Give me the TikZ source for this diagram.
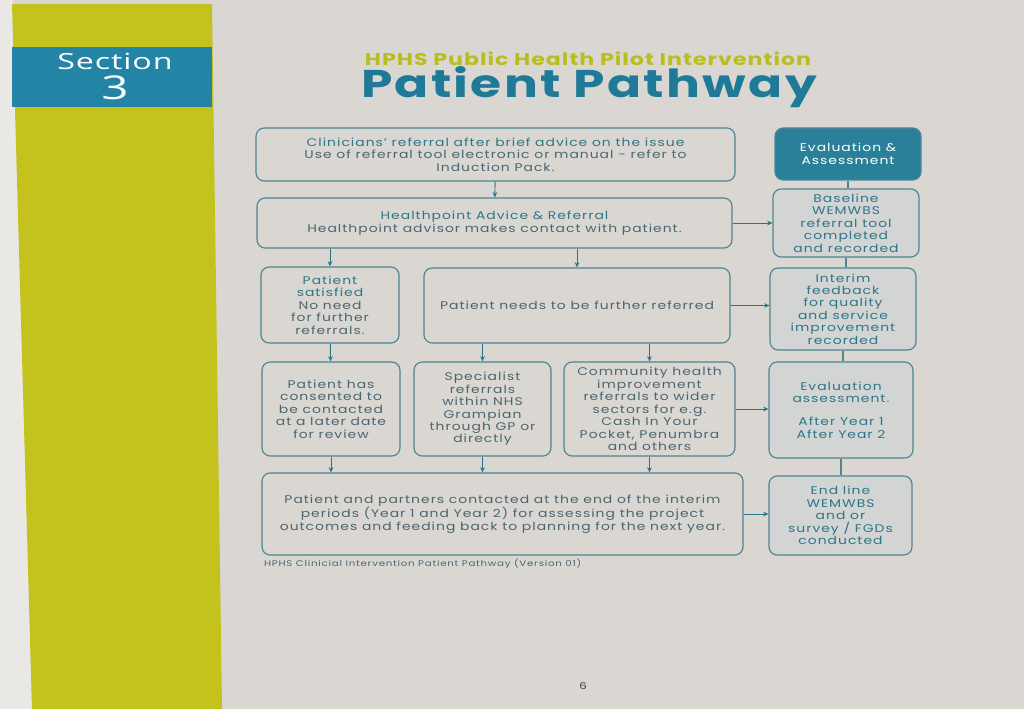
\documentclass[tikz,border=0pt]{standalone}
\usepackage{fontspec}
\setmainfont{Poppins}[FakeStretch=1.25, LetterSpace=9]
\newfontfamily\secfont{Open Sans}[FakeStretch=1.45, LetterSpace=4]
\newfontfamily\titlefont{Poppins}[FakeStretch=1.3, LetterSpace=6]
\usetikzlibrary{arrows.meta}
\definecolor{pagegrey}{HTML}{DAD7D2}
\definecolor{stripwhite}{HTML}{E9E8E5}
\definecolor{baryellow}{HTML}{C4C21C}
\definecolor{bandblue}{HTML}{2384A6}
\definecolor{titleblue}{HTML}{1F7A98}
\definecolor{subyellow}{HTML}{B9BE1E}
\definecolor{boxline}{HTML}{4E8593}
\definecolor{boxtext}{HTML}{4A6670}
\definecolor{headtext}{HTML}{2F7587}
\definecolor{arrowteal}{HTML}{2A7488}
\definecolor{evalfill}{HTML}{2B8099}
\definecolor{sidefill}{HTML}{D2D5D4}

\begin{document}
\begin{tikzpicture}[x=0.03cm, y=-0.03cm]
	\tikzstyle{box} = [draw=boxline, line width=1pt, rounded corners=7pt, align=center,
		text=boxtext, inner sep=2pt, font=\fontsize{9.5}{10.6}\selectfont]
	\tikzstyle{sidebox} = [box, fill=sidefill, text=headtext]
	\tikzstyle{arr} = [draw=arrowteal, line width=0.8pt, -{Stealth[length=4.5pt, width=4pt]}]
	\tikzstyle{link} = [draw=boxline, line width=0.9pt]
	% page and side bar
	\fill[pagegrey] (0,0) rectangle (1024,709);
	\fill[stripwhite] (0,0) -- (13,0) -- (32,709) -- (0,709) -- cycle;
	\fill[baryellow] (12,4) -- (212,4) -- (222,709) -- (32,709) -- cycle;
	\fill[bandblue] (12,47) rectangle (212,107);
	\node[text=white, font=\secfont\fontsize{19}{19}\selectfont] (sec) at (115,61) {Section};
	\node[text=white, font=\secfont\fontsize{28}{28}\selectfont] (secno) at (115,88) {3};
	% title
	\node[text=subyellow, font=\titlefont\bfseries\fontsize{14.5}{14.5}\selectfont] (pilot) at (588,59) {HPHS Public Health Pilot Intervention};
	\node[text=titleblue, font=\titlefont\bfseries\fontsize{33}{33}\selectfont] (title) at (589,87) {Patient Pathway};
	% left part of the pathway
	\node[box, minimum width=14.37cm, minimum height=1.59cm] (clin) at (495.5,154.5)
		{\textcolor{headtext}{Clinicians' referral after brief advice on the issue}\\
		 Use of referral tool electronic or manual - refer to\\ Induction Pack.};
	\node[box, minimum width=14.25cm, minimum height=1.5cm] (hp) at (494.5,223)
		{\textcolor{headtext}{Healthpoint Advice \& Referral}\\
		 Healthpoint advisor makes contact with patient.};
	\node[box, minimum width=4.14cm, minimum height=2.28cm] (sat) at (330,305)
		{\textcolor{headtext}{Patient}\\ \textcolor{headtext}{satisfied}\\ No need\\ for further\\ referrals.};
	\node[box, minimum width=9.18cm, minimum height=2.25cm] (needs) at (577,305.5)
		{Patient needs to be further referred};
	\node[box, minimum width=4.14cm, minimum height=2.82cm] (cons) at (331,409)
		{Patient has\\ consented to\\ be contacted\\ at a later date\\ for review};
	\node[box, minimum width=4.11cm, minimum height=2.82cm] (spec) at (482.5,409)
		{Specialist\\ referrals\\ within NHS\\ Grampian\\ through GP or\\ directly};
	\node[box, minimum width=5.13cm, minimum height=2.82cm] (comm) at (649.5,409)
		{Community health\\ improvement\\ referrals to wider\\ sectors for e.g.\\ Cash In Your\\ Pocket, Penumbra\\ and others};
	\node[box, minimum width=14.43cm, minimum height=2.46cm] (final) at (502.5,514)
		{Patient and partners contacted at the end of the interim\\
		 periods (Year 1 and Year 2) for assessing the project\\
		 outcomes and feeding back to planning for the next year.};
	% evaluation column
	\node[box, fill=evalfill, text=white, minimum width=4.38cm, minimum height=1.56cm] (eval) at (848,154)
		{Evaluation \&\\ Assessment};
	\node[sidebox, minimum width=4.38cm, minimum height=2.04cm] (base) at (846,223)
		{Baseline\\ WEMWBS\\ referral tool\\ completed\\ and recorded};
	\node[sidebox, minimum width=4.38cm, minimum height=2.46cm] (inter) at (843,309)
		{Interim\\ feedback\\ for quality\\ and service\\ improvement\\ recorded};
	\node[sidebox, minimum width=4.32cm, minimum height=2.88cm] (evass) at (841,410)
		{Evaluation\\ assessment.\\[9pt] After Year 1\\ After Year 2};
	\node[sidebox, minimum width=4.29cm, minimum height=2.37cm] (endl) at (840.5,515.5)
		{End line\\ WEMWBS\\ and or\\ survey / FGDs\\ conducted};
	\node[text=boxtext, font=\fontsize{7}{8}\selectfont, anchor=west] (caption) at (260,564)
		{HPHS Clinicial Intervention Patient Pathway (Version 01)};
	\node[text=black!75, font=\fontsize{8}{8}\selectfont] (pageno) at (583,686) {6};
	% arrows down
	\draw[arr] (clin) -- (hp);
	\draw[arr] (hp.south -| sat) -- (sat);
	\draw[arr] (hp.south -| needs) -- (needs);
	\draw[arr] (sat) -- (cons);
	\draw[arr] (needs.south -| spec) -- (spec);
	\draw[arr] (needs.south -| comm) -- (comm);
	\draw[arr] (cons) -- (cons |- final.north);
	\draw[arr] (spec) -- (spec |- final.north);
	\draw[arr] (comm) -- (comm |- final.north);
	% arrows across
	\draw[arr] (hp) -- (base);
	\draw[arr] (needs.east) -- (needs.east -| inter.west);
	\draw[arr] (comm.east) -- (comm.east -| evass.west);
	\draw[arr] (final.east) -- (final.east -| endl.west);
	% evaluation column links
	\draw[link] (eval.south) -- (eval.south |- base.north);
	\draw[link] (base.south) -- (base.south |- inter.north);
	\draw[link] (inter.south) -- (inter.south |- evass.north);
	\draw[link] (evass.south) -- (evass.south |- endl.north);
\end{tikzpicture}
\end{document}
